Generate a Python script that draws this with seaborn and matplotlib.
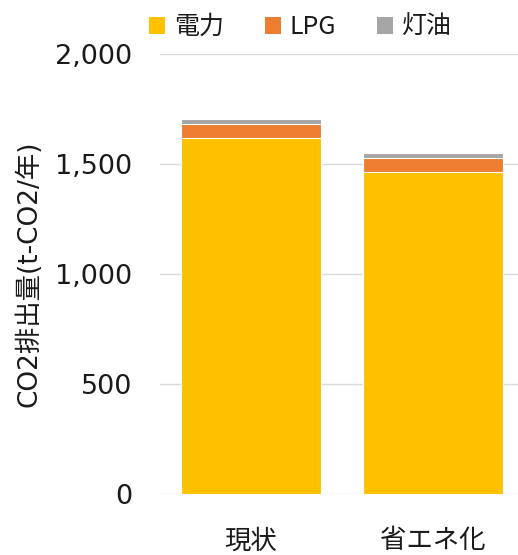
import matplotlib
matplotlib.use("Agg")
import matplotlib.pyplot as plt
import seaborn as sns
import pandas as pd
from matplotlib.patches import Patch

sns.set_theme(style="white")
plt.rcParams['font.family'] = ['DejaVu Sans', 'Noto Sans CJK JP']

categories = ["現状", "省エネ化"]
electricity = [1617, 1464]
lpg = [66, 65]
kerosene = [23, 22]
series_names = ["電力", "LPG", "灯油"]
colors = ["#FFC000", "#ED7D31", "#A5A5A5"]

df = pd.DataFrame({"cat": categories, "電力": electricity, "LPG": lpg, "灯油": kerosene})
df["c1"] = df["電力"]
df["c2"] = df["電力"] + df["LPG"]
df["c3"] = df["c2"] + df["灯油"]

fig = plt.figure(figsize=(5.18, 5.55), dpi=100)
ax = fig.add_axes([160/518, 1 - 494/555, (524 - 160)/518, (494 - 54)/555])

for col, color in zip(["c3", "c2", "c1"], colors[::-1]):
    sns.barplot(data=df, x="cat", y=col, color=color, width=0.77,
                saturation=1, ax=ax, edgecolor="white", linewidth=0.8)

ax.set_ylim(0, 2000)
ax.set_xlim(-0.5, 1.5)
ax.set_yticks([0, 500, 1000, 1500, 2000])
ax.set_yticklabels(["0", "500", "1,000", "1,500", "2,000"], fontsize=19.5, color="#1a1a1a")
ax.set_xticks([0, 1])
ax.set_xticklabels(categories, fontsize=19, color="#1a1a1a",
                   family=['Noto Sans CJK JP', 'DejaVu Sans'])
ax.tick_params(axis="x", length=0, pad=24)
ax.tick_params(axis="y", length=0, pad=20)
ax.set_xlabel("")
ax.set_ylabel("CO2排出量(t-CO2/年)", fontsize=19, color="#1a1a1a")
ax.yaxis.set_label_coords(-0.324, 0.5)
ax.yaxis.grid(True, color="#D9D9D9", linewidth=1)
ax.set_axisbelow(True)
for s in ax.spines.values():
    s.set_visible(False)

handles = [Patch(facecolor=c, edgecolor="none") for c in colors]
leg = fig.legend(handles, series_names, loc="center", bbox_to_anchor=(0.58, 0.951),
                 ncol=3, frameon=False, handlelength=0.64, handleheight=0.64,
                 handletextpad=0.36, columnspacing=1.64,
                 prop={"family": ['Noto Sans CJK JP', 'DejaVu Sans'], "size": 18})
for t in leg.get_texts():
    t.set_color("#1a1a1a")

fig.savefig("out.png", dpi=100)
